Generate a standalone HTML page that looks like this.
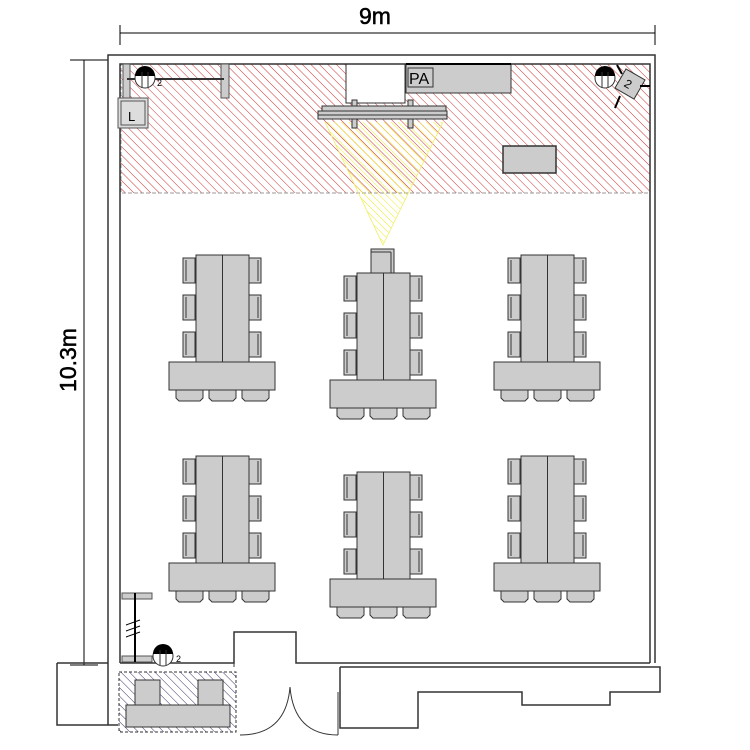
<!DOCTYPE html>
<html><head><meta charset="utf-8"><style>body{margin:0;background:#fff}svg{display:block}</style></head>
<body>
<svg width="750" height="750" viewBox="0 0 750 750" xmlns="http://www.w3.org/2000/svg" font-family="Liberation Sans, sans-serif">
<defs>
<pattern id="rh" width="6" height="6" patternUnits="userSpaceOnUse" patternTransform="rotate(-45)"><line x1="0" y1="0" x2="0" y2="6" stroke="#c33" stroke-width="1"/></pattern>
<pattern id="yh" width="5" height="5" patternUnits="userSpaceOnUse" patternTransform="rotate(-45)"><line x1="0" y1="0" x2="0" y2="5" stroke="#ee2" stroke-width="1"/></pattern>
<pattern id="bh" width="6" height="6" patternUnits="userSpaceOnUse" patternTransform="rotate(-45)"><line x1="0" y1="0" x2="0" y2="6" stroke="#336" stroke-width="1"/></pattern>
<g id="chL"><rect x="0" y="0" width="12" height="25" fill="#ccc" stroke="#333"/><line x1="3" y1="2" x2="3" y2="23" stroke="#333"/></g>
<g id="chR"><rect x="0" y="0" width="12" height="25" fill="#ccc" stroke="#333"/><line x1="9" y1="2" x2="9" y2="23" stroke="#333"/></g>
<g id="chB"><path d="M0,0 h27 v8 l-3,3 h-21 l-3,-3 z" fill="#ccc" stroke="#333"/></g>
<g id="grp">
<use href="#chL" x="-13" y="3"/><use href="#chL" x="-13" y="40"/><use href="#chL" x="-13" y="77"/>
<use href="#chR" x="53" y="3"/><use href="#chR" x="53" y="40"/><use href="#chR" x="53" y="77"/>
<rect x="0" y="0" width="53" height="107" fill="#ccc" stroke="#333"/>
<line x1="26.5" y1="0" x2="26.5" y2="107" stroke="#333"/>
<rect x="-27" y="107" width="106" height="28" fill="#ccc" stroke="#333"/>
<use href="#chB" x="-20" y="135"/><use href="#chB" x="13" y="135"/><use href="#chB" x="46" y="135"/>
</g>
</defs>

<g stroke="#000" stroke-width="1">
<line x1="120" y1="33" x2="655" y2="33"/><line x1="120" y1="25" x2="120" y2="45"/><line x1="655" y1="25" x2="655" y2="45"/>
<line x1="84" y1="60" x2="84" y2="665"/><line x1="70" y1="60" x2="108" y2="60"/><line x1="70" y1="665" x2="98" y2="665"/>
</g>
<text x="375" y="24" font-size="23" text-anchor="middle" stroke="#000" stroke-width="0.5">9m</text>
<text x="0" y="0" font-size="23" text-anchor="middle" stroke="#000" stroke-width="0.5" transform="translate(76,360) rotate(-90)">10.3m</text>

<rect x="121" y="64" width="529" height="129" fill="url(#rh)" stroke="#999" stroke-dasharray="4,2"/>
<rect x="346" y="60" width="59" height="43" fill="#fff"/>
<polyline points="346,64 346,103 405,103 405,64" fill="none" stroke="#333"/>

<g fill="none" stroke="#333" stroke-width="1.5">
<polyline points="108,725 108,55 655,55 655,663"/>
<polyline points="120,663 120,64 650,64 650,663"/>
<polyline points="120,663 234,663 234,632 296,632 296,663 650,663"/>
<polyline points="57,663 108,663"/>
<polyline points="57,663 57,725 118,725"/>
<polyline points="340,667 340,728 418,728 418,692 522,692 522,705 610,705 610,692 660,692 660,667 340,667"/>
</g>
<line x1="234" y1="632" x2="234" y2="667" stroke="#333"/>
<g fill="none" stroke="#333">
<path d="M290,687 Q286,735 240,735"/><path d="M290,687 Q294,735 338,735"/>
<line x1="338" y1="692" x2="338" y2="735"/>
</g>

<rect x="119" y="672" width="117" height="60" fill="url(#bh)" stroke="#333" stroke-dasharray="3,2"/>
<rect x="135" y="680" width="25" height="25" fill="#ccc" stroke="#333"/>
<rect x="198" y="680" width="25" height="25" fill="#ccc" stroke="#333"/>
<rect x="126" y="705" width="104" height="22" fill="#ccc" stroke="#333"/>

<rect x="122" y="593" width="30" height="6" fill="#ccc" stroke="#555"/>
<rect x="122" y="656" width="30" height="6" fill="#ccc" stroke="#555"/>
<line x1="135" y1="593" x2="135" y2="662" stroke="#000" stroke-width="2"/>
<g stroke="#000"><line x1="126" y1="625" x2="140" y2="620"/><line x1="126" y1="631" x2="140" y2="626"/><line x1="126" y1="637" x2="140" y2="632"/></g>
<circle cx="163" cy="656" r="10" fill="#fff" stroke="#333"/><path d="M153,654 A10,10 0 0 1 173,654 Z" fill="#000"/>
<g stroke="#333"><line x1="160" y1="650" x2="160" y2="665"/><line x1="166" y1="650" x2="166" y2="665"/></g>
<text x="176" y="662" font-size="9">2</text>

<rect x="123" y="64" width="7" height="34" fill="#ccc" stroke="#555"/>
<rect x="221" y="64" width="8" height="34" fill="#ccc" stroke="#555"/>
<line x1="127" y1="79" x2="224" y2="79" stroke="#333" stroke-width="2"/>
<rect x="118" y="98" width="30" height="30" fill="#ddd" stroke="#555"/>
<rect x="121" y="101" width="24" height="24" fill="none" stroke="#555"/>
<text x="128" y="121" font-size="13">L</text>
<circle cx="145" cy="78" r="10" fill="#fff" stroke="#333"/><path d="M135,76 A10,10 0 0 1 155,76 Z" fill="#000"/>
<g stroke="#333"><line x1="142" y1="72" x2="142" y2="88"/><line x1="148" y1="72" x2="148" y2="88"/></g>
<text x="157" y="86" font-size="9">2</text>

<circle cx="605" cy="78" r="10" fill="#fff" stroke="#333"/><path d="M595,76 A10,10 0 0 1 615,76 Z" fill="#000"/>
<g stroke="#333"><line x1="602" y1="72" x2="602" y2="88"/><line x1="608" y1="72" x2="608" y2="88"/></g>
<g transform="translate(630,84) rotate(30)"><rect x="-11" y="-11" width="22" height="22" fill="#ccc" stroke="#333"/><text x="-5" y="5" font-size="12">2</text></g>
<g stroke="#000" stroke-width="2"><line x1="617" y1="65" x2="622" y2="74"/><line x1="640" y1="86" x2="650" y2="86"/><line x1="620" y1="96" x2="615" y2="108"/></g>

<rect x="406" y="64" width="105" height="29" fill="#ccc" stroke="#333"/>
<line x1="406" y1="64" x2="511" y2="64" stroke="#000" stroke-width="2"/>
<rect x="408" y="68" width="25" height="19" fill="none" stroke="#333"/>
<text x="409" y="84" font-size="16">PA</text>

<rect x="503" y="146" width="53" height="27" fill="#ccc" stroke="#333" stroke-width="1.5"/>

<polygon points="325,122 443,122 383,245" fill="url(#yh)"/>
<polyline points="325,122 383,245 443,122" fill="none" stroke="#ee6" stroke-width="0.8"/>
<rect x="352" y="100" width="5" height="6" fill="#ccc" stroke="#333"/><rect x="408" y="100" width="5" height="6" fill="#ccc" stroke="#333"/>
<rect x="352" y="118" width="5" height="10" fill="#ccc" stroke="#333"/><rect x="408" y="118" width="5" height="10" fill="#ccc" stroke="#333"/>
<rect x="322" y="106" width="124" height="5" fill="#ccc" stroke="#333"/>
<rect x="318" y="111" width="129" height="8" fill="#ccc" stroke="#333"/>
<line x1="318" y1="115" x2="447" y2="115" stroke="#333"/>

<rect x="371" y="249" width="23" height="24" fill="#ccc" stroke="#333"/>
<line x1="371" y1="252" x2="391" y2="252" stroke="#333"/><line x1="391" y1="252" x2="391" y2="273" stroke="#333"/>

<use href="#grp" x="196" y="255"/>
<use href="#grp" x="357" y="273"/>
<use href="#grp" x="521" y="255"/>
<use href="#grp" x="196" y="456"/>
<use href="#grp" x="357" y="472"/>
<use href="#grp" x="521" y="456"/>
</svg>
</body></html>
